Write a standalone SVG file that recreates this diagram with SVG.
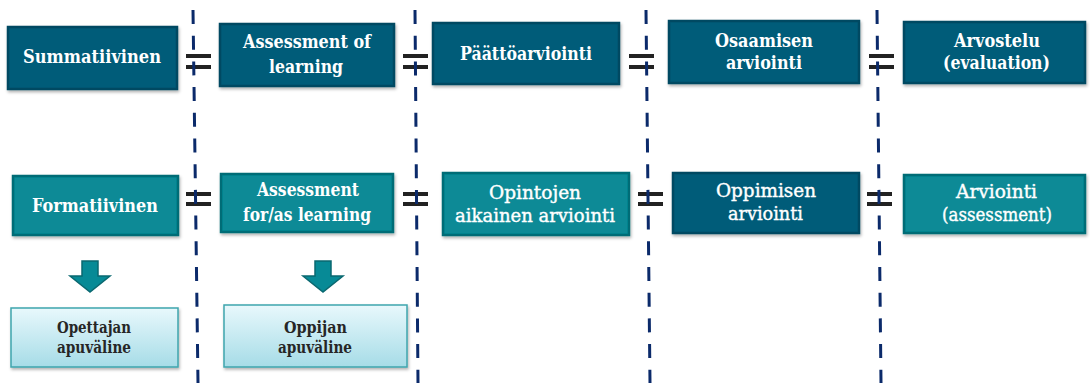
<svg xmlns="http://www.w3.org/2000/svg" width="1090" height="383" viewBox="0 0 1090 383">
<defs>
<style>
.dk{fill:#035b79;stroke:#024a62;stroke-width:2.5}
.tl{fill:#078a96;stroke:#056c76;stroke-width:2.5}
.lt{fill:url(#lg);stroke:#3fa5ad;stroke-width:1.5}
.t{font-family:'DejaVu Serif Condensed','DejaVu Serif',serif;font-stretch:condensed;font-size:18px;fill:#ffffff;text-anchor:middle}
.b{font-weight:bold}
.r{stroke:#ffffff;stroke-width:0.35}
.d{font-family:'DejaVu Serif Condensed','DejaVu Serif',serif;font-stretch:condensed;font-size:16px;font-weight:bold;fill:#262626;text-anchor:middle}
.ln{stroke:#0b2a6a;stroke-width:3;stroke-dasharray:14 11.7;fill:none}
.ne{fill:#222222}
.ar{fill:#078a96;stroke:#0a6870;stroke-width:1.5}
</style>
<linearGradient id="lg" x1="0" y1="0" x2="0" y2="1">
<stop offset="0" stop-color="#e8f8fc"/>
<stop offset="1" stop-color="#a6dce7"/>
</linearGradient>
<filter id="sh" x="-10%" y="-10%" width="120%" height="130%">
<feDropShadow dx="1" dy="2" stdDeviation="1.5" flood-color="#000" flood-opacity="0.3"/>
</filter>
</defs>
<g id="connectors">
<g id="noteq">
<rect class="ne" x="186" y="54" width="25" height="4"/><rect class="ne" x="186" y="65" width="25" height="4"/>
<rect class="ne" x="403" y="54" width="25" height="4"/><rect class="ne" x="403" y="65" width="25" height="4"/>
<rect class="ne" x="629" y="54" width="25" height="4"/><rect class="ne" x="629" y="65" width="25" height="4"/>
<rect class="ne" x="869" y="54" width="25" height="4"/><rect class="ne" x="869" y="65" width="25" height="4"/>
<rect class="ne" x="186" y="192" width="25" height="4"/><rect class="ne" x="186" y="202" width="25" height="4"/>
<rect class="ne" x="403" y="192" width="25" height="4"/><rect class="ne" x="403" y="202" width="25" height="4"/>
<rect class="ne" x="638" y="192" width="25" height="4"/><rect class="ne" x="638" y="202" width="25" height="4"/>
<rect class="ne" x="867" y="192" width="25" height="4"/><rect class="ne" x="867" y="202" width="25" height="4"/>
</g>
<line class="ln" x1="193" y1="10" x2="198" y2="383"/>
<line class="ln" x1="415" y1="10" x2="418" y2="383"/>
<line class="ln" x1="646" y1="10" x2="650" y2="383"/>
<line class="ln" x1="877" y1="10" x2="881" y2="383"/>
<path id="arrow1" class="ar" d="M82,261 H98 V276 H110 L90,292 L70,276 H82 Z"/>
<path id="arrow2" class="ar" d="M315,261 H331 V276 H343 L323,292 L303,276 H315 Z"/>
</g>
<g id="summatiivinen">
<rect class="dk" x="8" y="27" width="169" height="62" filter="url(#sh)"/>
<text class="t b" x="92" y="63" textLength="138" lengthAdjust="spacingAndGlyphs">Summatiivinen</text>
</g>
<g id="assessment-of">
<rect class="dk" x="220" y="24" width="174" height="62" filter="url(#sh)"/>
<text class="t b" x="307" y="48" textLength="128" lengthAdjust="spacingAndGlyphs">Assessment of</text>
<text class="t b" x="306" y="73" textLength="74" lengthAdjust="spacingAndGlyphs">learning</text>
</g>
<g id="paattoarviointi">
<rect class="dk" x="433" y="23" width="186" height="61" filter="url(#sh)"/>
<text class="t b" x="526" y="60" textLength="132" lengthAdjust="spacingAndGlyphs">Päättöarviointi</text>
</g>
<g id="osaamisen">
<rect class="dk" x="669" y="21" width="190" height="62" filter="url(#sh)"/>
<text class="t b" x="764" y="47" textLength="98" lengthAdjust="spacingAndGlyphs">Osaamisen</text>
<text class="t b" x="764" y="69" textLength="76" lengthAdjust="spacingAndGlyphs">arviointi</text>
</g>
<g id="arvostelu">
<rect class="dk" x="904" y="22" width="181" height="61" filter="url(#sh)"/>
<text class="t b" x="997" y="47" textLength="86" lengthAdjust="spacingAndGlyphs">Arvostelu</text>
<text class="t b" x="996.5" y="69" textLength="107" lengthAdjust="spacingAndGlyphs">(evaluation)</text>
</g>
<g id="formatiivinen">
<rect class="tl" x="13" y="176" width="165" height="59" filter="url(#sh)"/>
<text class="t b" x="95" y="212" textLength="126" lengthAdjust="spacingAndGlyphs">Formatiivinen</text>
</g>
<g id="assessment-for">
<rect class="tl" x="221" y="174" width="172" height="58" filter="url(#sh)"/>
<text class="t b" x="308" y="196" textLength="102" lengthAdjust="spacingAndGlyphs">Assessment</text>
<text class="t b" x="307" y="221" textLength="128" lengthAdjust="spacingAndGlyphs">for/as learning</text>
</g>
<g id="opintojen">
<rect class="tl" x="443" y="173" width="186" height="62" filter="url(#sh)"/>
<text class="t r" x="535" y="199" textLength="92" lengthAdjust="spacingAndGlyphs">Opintojen</text>
<text class="t r" x="535" y="222" textLength="160" lengthAdjust="spacingAndGlyphs">aikainen arviointi</text>
</g>
<g id="oppimisen">
<rect class="dk" x="673" y="173" width="186" height="60" filter="url(#sh)"/>
<text class="t r" x="766" y="197" textLength="100" lengthAdjust="spacingAndGlyphs">Oppimisen</text>
<text class="t r" x="765.5" y="220" textLength="75" lengthAdjust="spacingAndGlyphs">arviointi</text>
</g>
<g id="arviointi">
<rect class="tl" x="904" y="175" width="181" height="58" filter="url(#sh)"/>
<text class="t r" x="996.5" y="198" textLength="81" lengthAdjust="spacingAndGlyphs">Arviointi</text>
<text class="t r" x="997" y="221" textLength="110" lengthAdjust="spacingAndGlyphs">(assessment)</text>
</g>
<g id="opettajan">
<rect class="lt" x="11" y="308" width="167" height="59" filter="url(#sh)"/>
<text class="d" x="94" y="333" textLength="74" lengthAdjust="spacingAndGlyphs">Opettajan</text>
<text class="d" x="94" y="353" textLength="74" lengthAdjust="spacingAndGlyphs">apuväline</text>
</g>
<g id="oppijan">
<rect class="lt" x="224" y="305" width="183" height="62" filter="url(#sh)"/>
<text class="d" x="315.5" y="333" textLength="63" lengthAdjust="spacingAndGlyphs">Oppijan</text>
<text class="d" x="315" y="353" textLength="74" lengthAdjust="spacingAndGlyphs">apuväline</text>
</g>
</svg>
